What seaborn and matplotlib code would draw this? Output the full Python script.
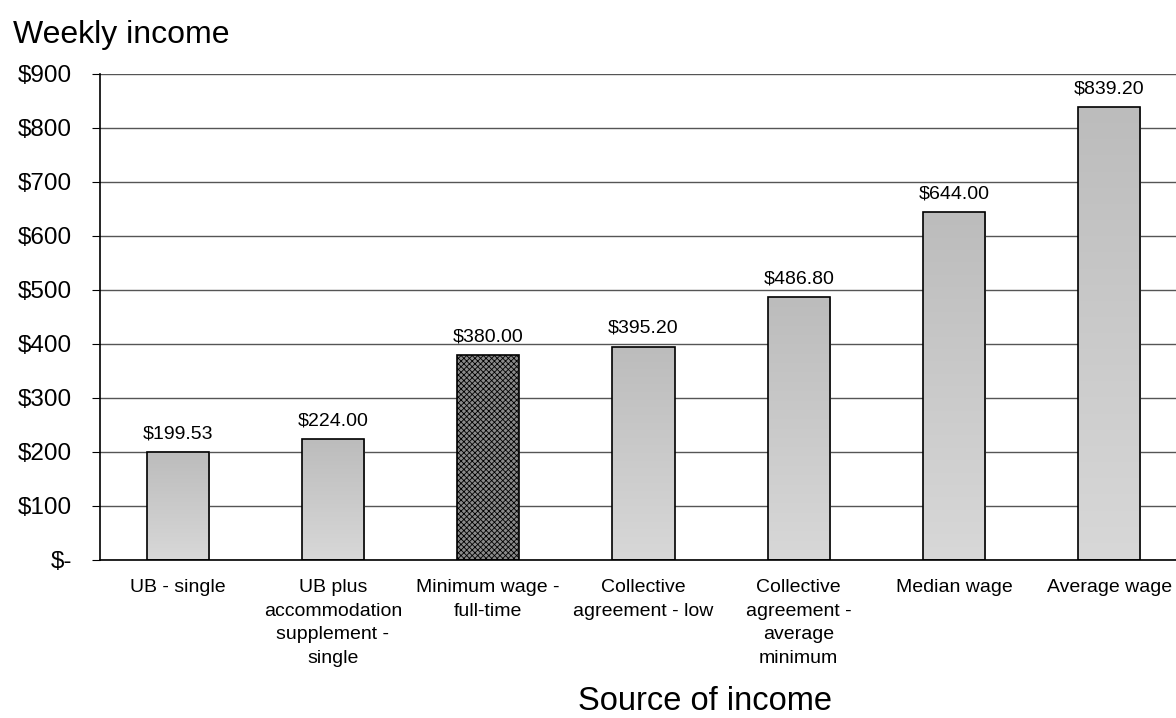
import matplotlib
matplotlib.use("Agg")
import matplotlib.pyplot as plt
import numpy as np
import seaborn as sns

# data
categories = [
    "UB - single",
    "UB plus\naccommodation\nsupplement -\nsingle",
    "Minimum wage -\nfull-time",
    "Collective\nagreement - low",
    "Collective\nagreement -\naverage\nminimum",
    "Median wage",
    "Average wage",
]
values = [199.53, 224.00, 380.00, 395.20, 486.80, 644.00, 839.20]
highlight = 2  # minimum wage bar is hatched
y_ticks = [0, 100, 200, 300, 400, 500, 600, 700, 800, 900]

sns.set_style("white")
plt.rcParams["font.family"] = ["Liberation Sans", "DejaVu Sans"]
plt.rcParams["hatch.linewidth"] = 0.6
plt.rcParams["text.color"] = "black"
plt.rcParams["axes.labelcolor"] = "black"
plt.rcParams["xtick.color"] = "black"
plt.rcParams["ytick.color"] = "black"

fig = plt.figure(figsize=(11.76, 7.18), dpi=100)
# axes runs past the right edge of the figure, as in the reference
ax = fig.add_axes([100 / 1176, 158 / 718, 1087 / 1176, 486 / 718])

sns.barplot(x=categories, y=values, color="#c8c8c8", width=0.4,
            edgecolor="black", linewidth=1.2, saturation=1, ax=ax)

bars = ax.containers[0]
grad = np.linspace(0, 1, 256).reshape(-1, 1)
cmap = matplotlib.colors.LinearSegmentedColormap.from_list("g", ["#d8d8d8", "#bcbcbc"])
for i, patch in enumerate(bars):
    if i == highlight:
        patch.set_facecolor("#8a8a8a")
        patch.set_hatch("xxxxxx")
        continue
    x0, y0 = patch.get_x(), patch.get_y()
    w, h = patch.get_width(), patch.get_height()
    im = ax.imshow(grad, cmap=cmap, aspect="auto", origin="lower",
                   extent=[x0, x0 + w, y0, y0 + h], zorder=patch.get_zorder() - 0.01)
    im.set_clip_path(patch)
    patch.set_facecolor("none")

ax.bar_label(bars, labels=[f"${v:,.2f}" for v in values], padding=7, fontsize=14)

ax.set_xlim(-0.5, len(categories) - 0.5)
ax.set_ylim(0, 900)
ax.set_yticks(y_ticks)
ax.set_yticklabels(["$-"] + [f"${v}" for v in y_ticks[1:]], fontsize=17.5)
ax.yaxis.grid(True, color="#555555", linewidth=1.0)
ax.set_axisbelow(True)

ax.set_xticks(range(len(categories)))
ax.set_xticklabels(categories, fontsize=14, linespacing=1.5)
ax.tick_params(axis="x", which="major", length=0, pad=14)
ax.set_xticks(np.arange(len(categories) + 1) - 0.5, minor=True)
ax.tick_params(axis="x", which="minor", length=4.5, width=0.8, direction="out")
ax.tick_params(axis="y", length=5.5, width=0.8, direction="out", pad=14.5)
ax.tick_params(axis="y", left=True)
ax.tick_params(axis="x", bottom=True)

for side in ["top", "right"]:
    ax.spines[side].set_visible(False)
for side in ["left", "bottom"]:
    ax.spines[side].set_color("black")
    ax.spines[side].set_linewidth(1.2)

ax.set_xlabel("Source of income", fontsize=23.5)
ax.xaxis.label.set_verticalalignment("bottom")
ax.xaxis.set_label_coords((705 - 100) / 1087, (560 - 717) / 486)
fig.text(13 / 1176, 1 - 43 / 718, "Weekly income", fontsize=23, va="baseline", ha="left")

fig.savefig("out.png", dpi=100)
